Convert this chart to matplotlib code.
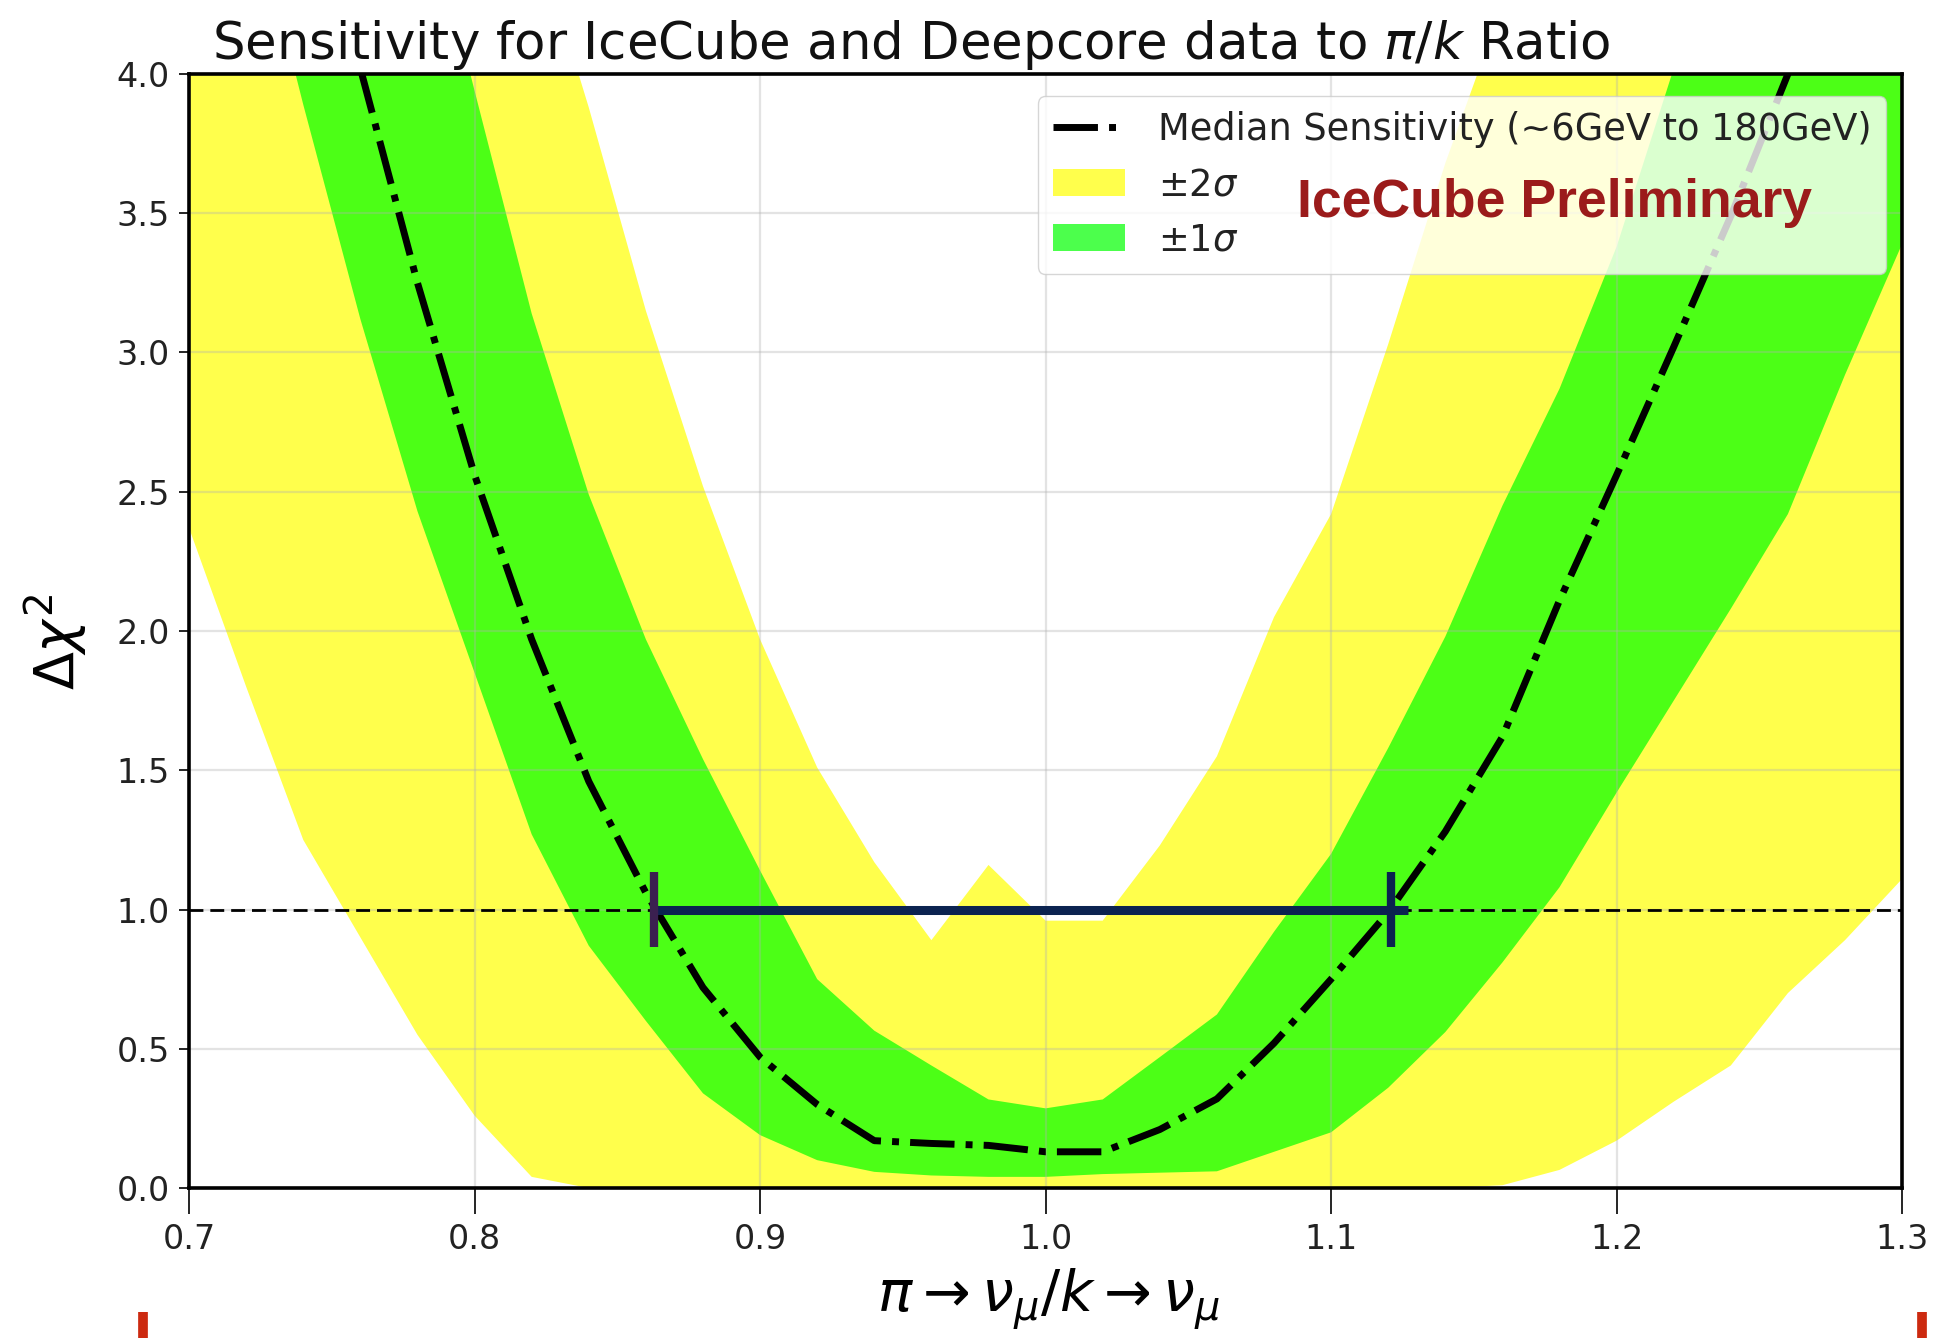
import matplotlib
matplotlib.use("Agg")
import matplotlib.pyplot as plt
from matplotlib.lines import Line2D
from matplotlib.patches import Patch

# pi/K production ratio scan points
ratio = [0.70, 0.72, 0.74, 0.76, 0.78, 0.80, 0.82, 0.84, 0.86, 0.88, 0.90,
         0.92, 0.94, 0.96, 0.98, 1.00, 1.02, 1.04, 1.06, 1.08, 1.10,
         1.12, 1.14, 1.16, 1.18, 1.20, 1.22, 1.24, 1.26, 1.28, 1.30]

# median delta chi^2 of the pseudo-experiments
median = [6.30, 5.50, 4.75, 4.02, 3.25, 2.56, 1.97, 1.46, 1.06, 0.72, 0.47,
          0.30, 0.17, 0.16, 0.153, 0.13, 0.13, 0.21, 0.32, 0.52, 0.75,
          0.99, 1.28, 1.62, 2.11, 2.56, 3.02, 3.49, 4.00, 4.50, 5.00]

# +-1 sigma band
lower_1sig = [5.50, 4.70, 3.89, 3.12, 2.43, 1.85, 1.27, 0.87, 0.60, 0.34, 0.19,
              0.10, 0.058, 0.045, 0.04, 0.04, 0.05, 0.055, 0.06, 0.13, 0.20,
              0.36, 0.56, 0.81, 1.08, 1.42, 1.75, 2.08, 2.42, 2.92, 3.39]
upper_1sig = [7.80, 7.00, 6.30, 5.50, 4.75, 3.94, 3.14, 2.49, 1.97, 1.54, 1.14,
              0.75, 0.565, 0.44, 0.318, 0.286, 0.318, 0.47, 0.623, 0.92, 1.20,
              1.58, 1.98, 2.45, 2.87, 3.38, 4.02, 4.60, 5.20, 5.80, 6.40]

# +-2 sigma band
lower_2sig = [2.37, 1.80, 1.25, 0.90, 0.55, 0.26, 0.04, 0.0, 0.0, 0.0, 0.0,
              0.0, 0.0, 0.0, 0.0, 0.0, 0.0, 0.0, 0.0, 0.0, 0.0,
              0.0, 0.0, 0.01, 0.065, 0.17, 0.31, 0.44, 0.70, 0.89, 1.11]
upper_2sig = [9.00, 8.20, 7.40, 6.60, 5.90, 5.20, 4.55, 3.88, 3.15, 2.52, 1.97,
              1.51, 1.17, 0.89, 1.16, 0.96, 0.96, 1.23, 1.55, 2.05, 2.42,
              3.03, 3.68, 4.25, 5.10, 5.80, 6.50, 7.20, 7.90, 8.60, 9.30]

# 1 sigma sensitivity interval (delta chi^2 = 1 crossings)
interval = [0.863, 1.121]
interval_level = 1.0

xticks = [0.7, 0.8, 0.9, 1.0, 1.1, 1.2, 1.3]
yticks = [0.0, 0.5, 1.0, 1.5, 2.0, 2.5, 3.0, 3.5, 4.0]

fig = plt.figure(figsize=(19.37, 13.38), dpi=100)
ax = fig.add_axes([0.0976, 0.1121, 0.8844, 0.8326])

ax.fill_between(ratio, lower_2sig, upper_2sig, color='yellow', alpha=0.7,
                lw=0, zorder=1)
ax.fill_between(ratio, lower_1sig, upper_1sig, color='lime', alpha=0.7,
                lw=0, zorder=2)
ax.plot(ratio, median, color='black', ls='-.', lw=5, zorder=4)

ax.axhline(interval_level, color='black', ls=(0, (5, 2.5)), lw=2, zorder=3)

# sensitivity interval bar
ax.plot([interval[0], interval[1] + 0.006], [interval_level, interval_level],
        color='#0b2350', lw=6.5, solid_capstyle='butt', zorder=5)
ax.plot([interval[0], interval[0]], [interval_level - 0.136, interval_level + 0.136],
        color='#3b2050', lw=6, solid_capstyle='butt', zorder=6)
ax.plot([interval[1], interval[1]], [interval_level - 0.136, interval_level + 0.136],
        color='#0b2350', lw=6, solid_capstyle='butt', zorder=6)

ax.set_xlim(0.7, 1.3)
ax.set_ylim(0.0, 4.0)
ax.set_xticks(xticks)
ax.set_xticklabels([f'{t:.1f}' for t in xticks])
ax.set_yticks(yticks)
ax.set_yticklabels([f'{t:.1f}' for t in yticks])

ax.set_axisbelow(False)
ax.grid(True, color='#b0b0b0', alpha=0.35, lw=1.6)
for s in ax.spines.values():
    s.set_linewidth(2.6)
    s.set_zorder(7)
ax.tick_params(axis='x', length=19, width=1.2, labelsize=24, pad=6,
               labelcolor='#222222')
ax.tick_params(axis='y', length=7, width=1.2, labelsize=24, pad=7,
               labelcolor='#222222')

handles = [
    Line2D([], [], color='black', ls='-.', lw=5),
    Patch(facecolor='yellow', alpha=0.7, lw=0),
    Patch(facecolor='lime', alpha=0.7, lw=0),
]
labels = ['Median Sensitivity (~6GeV to 180GeV)', r'$\pm2\sigma$', r'$\pm1\sigma$']
leg = ax.legend(handles, labels, loc='upper right',
                bbox_to_anchor=(0.9907, 0.980), borderaxespad=0,
                fontsize=26.5, handlelength=1.96, handleheight=0.75,
                handletextpad=0.9, labelspacing=0.5, framealpha=0.8,
                edgecolor='#cccccc', fancybox=True)
for t in leg.get_texts():
    t.set_color('#222222')
leg.set_zorder(8)

ax.text(0.6468, 0.8716, 'IceCube Preliminary', transform=ax.transAxes,
        fontsize=38.5, fontweight='bold', family='Liberation Sans',
        color='#9b1b1b', ha='left', va='baseline', zorder=9)

fig.text(212 / 1937, 1 - 59 / 1338,
         r'Sensitivity for IceCube and Deepcore data to $\pi/k$ Ratio',
         fontsize=37, ha='left', va='baseline', color='#111111')
fig.text(56 / 1937, 0.520, r'$\Delta\chi^2$', rotation=90, fontsize=40,
         ha='center', va='center')
fig.text(0.541, 1 - 1312 / 1338, r'$\pi \rightarrow \nu_\mu / k \rightarrow \nu_\mu$',
         fontsize=41, ha='center', va='baseline')

# bracket ends below the axis
for xf in (143 / 1937, 1922 / 1937):
    fig.add_artist(Line2D([xf, xf], [0.0, 1 - 1312 / 1338], color='#cc2a10',
                          lw=7, solid_capstyle='butt'))

fig.savefig('out.png', dpi=100)
